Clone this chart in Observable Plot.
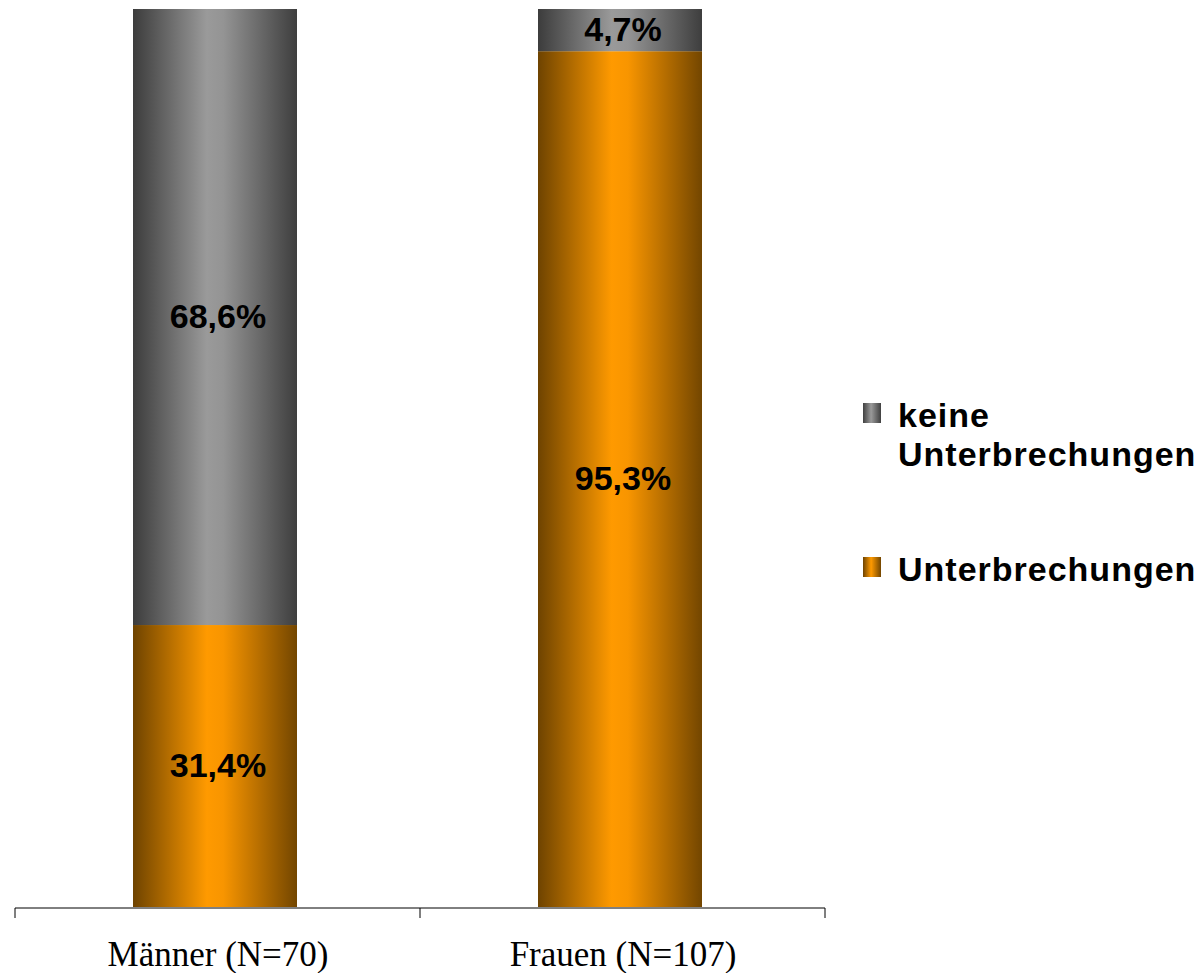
<!DOCTYPE html>
<html>
<head>
<meta charset="utf-8">
<script src="https://cdn.jsdelivr.net/npm/d3@7"></script>
<script src="https://cdn.jsdelivr.net/npm/@observablehq/plot@0.6"></script>
<style>
  html, body { margin: 0; padding: 0; background: #fff; overflow: hidden; }
  #wrap { position: relative; width: 1202px; height: 973px; }
  #chart svg { display: block; }
  .leg { position: absolute; font-family: "Liberation Sans", Arial, sans-serif; font-weight: bold;
         font-size: 34px; line-height: 39px; letter-spacing: 1px; color: #000; white-space: nowrap; }
  .sw { position: absolute; width: 18px; height: 20px; }
</style>
</head>
<body>
<div id="wrap">
  <div id="chart"></div>
</div>
<script>
const categories = ["Männer (N=70)", "Frauen (N=107)"];
const seriesNames = ["Unterbrechungen", "keine Unterbrechungen"];
const unterbrechungen = [31.4, 95.3];
const keineUnterbrechungen = [68.6, 4.7];
const valueLabels = {
  "Unterbrechungen": ["31,4%", "95,3%"],
  "keine Unterbrechungen": ["68,6%", "4,7%"]
};
const legendLabels = ["keine\nUnterbrechungen", "Unterbrechungen"];

const gradIds = {"Unterbrechungen": "url(#gOrange)", "keine Unterbrechungen": "url(#gGrey)"};

const data = [];
categories.forEach((c, i) => data.push({cat: c, series: seriesNames[0], value: unterbrechungen[i], label: valueLabels[seriesNames[0]][i]}));
categories.forEach((c, i) => data.push({cat: c, series: seriesNames[1], value: keineUnterbrechungen[i], label: valueLabels[seriesNames[1]][i]}));

function edgeTicks(index, scales, values, dims, context) {
  const g = d3.create("svg:g");
  const x = scales.x, bw = x.bandwidth();
  const edges = [];
  categories.forEach((c, i) => { edges.push(x(c)); if (i === categories.length - 1) edges.push(x(c) + bw); });
  const y0 = dims.height - dims.marginBottom + 1;
  edges.forEach(e => g.append("line").attr("x1", e).attr("x2", e).attr("y1", y0).attr("y2", y0 + 10)
    .attr("stroke", "#000").attr("stroke-width", 1));
  g.append("line").attr("x1", edges[0]).attr("x2", edges[edges.length - 1]).attr("y1", y0).attr("y2", y0)
    .attr("stroke", "#000").attr("stroke-width", 1);
  return g.node();
}

const chart = Plot.plot({
  width: 1202,
  height: 973,
  marginLeft: 15,
  marginRight: 377,
  marginTop: 9,
  marginBottom: 66,
  x: {domain: categories, padding: 0, label: null},
  y: {domain: [0, 100], axis: null},
  color: {type: "identity"},
  style: {background: "transparent"},
  marks: [
    Plot.barY(data, Plot.stackY({x: "cat", y: "value", z: "series", fill: d => gradIds[d.series], insetLeft: 118, insetRight: 123})),
    Plot.text(data, Plot.stackY({x: "cat", y: "value", z: "series", text: "label",
      fontSize: 34, fontWeight: "bold", fontFamily: "Liberation Sans, Arial, sans-serif", fill: "#000",
      style: "letter-spacing:0.5px"})),
    Plot.axisX({tickSize: 0, tickPadding: 34, fontSize: 35, fontFamily: "Liberation Serif, Times New Roman, serif", fill: "#000", label: null}),
    edgeTicks
  ]
});

chart.insertAdjacentHTML("afterbegin", `
<defs>
  <linearGradient id="gOrange" x1="0" x2="1" y1="0" y2="0">
    <stop offset="0" stop-color="#6e4300"/>
    <stop offset="0.45" stop-color="#ff9a00"/>
    <stop offset="0.55" stop-color="#f89500"/>
    <stop offset="1" stop-color="#734600"/>
  </linearGradient>
  <linearGradient id="gGrey" x1="0" x2="1" y1="0" y2="0">
    <stop offset="0" stop-color="#3c3c3c"/>
    <stop offset="0.45" stop-color="#9a9a9a"/>
    <stop offset="0.55" stop-color="#949494"/>
    <stop offset="1" stop-color="#3e3e3e"/>
  </linearGradient>
</defs>`);
document.getElementById("chart").appendChild(chart);

// Legend (HTML overlay on the right)
const wrap = document.getElementById("wrap");
const legendItems = [
  {text: legendLabels[0], grad: "linear-gradient(to right, #404040, #9a9a9a 45%, #404040)", swTop: 403, txtTop: 396},
  {text: legendLabels[1], grad: "linear-gradient(to right, #6e4300, #ff9a00 45%, #734600)", swTop: 557, txtTop: 550}
];
legendItems.forEach(it => {
  const sw = document.createElement("div");
  sw.className = "sw";
  sw.style.left = "863px"; sw.style.top = it.swTop + "px"; sw.style.background = it.grad;
  wrap.appendChild(sw);
  const t = document.createElement("div");
  t.className = "leg";
  t.style.left = "898px"; t.style.top = it.txtTop + "px";
  t.innerHTML = it.text.split("\n").join("<br>");
  wrap.appendChild(t);
});
</script>
</body>
</html>
